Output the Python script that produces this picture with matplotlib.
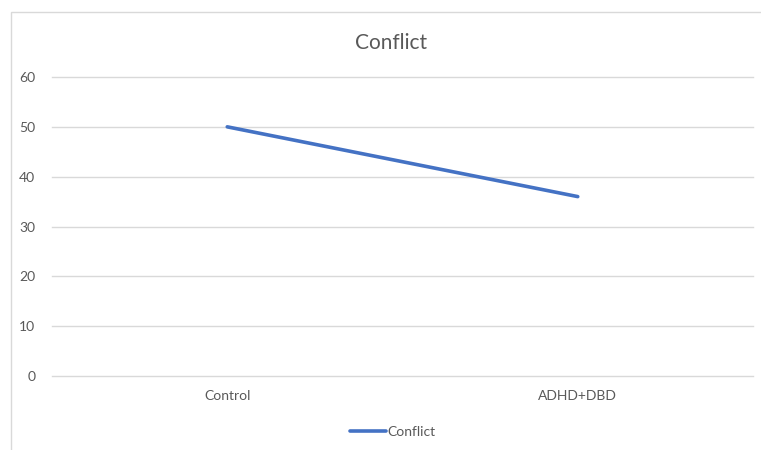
import matplotlib
matplotlib.use("Agg")
import matplotlib.pyplot as plt
import matplotlib.patches as patches

# data
categories = ["Control", "ADHD+DBD"]
conflict = [50, 36]
y_ticks = [0, 10, 20, 30, 40, 50, 60]

_BLUE = "#4472C4"
_GRID = "#d9d9d9"
_TEXT = "#595959"

plt.rcParams["font.family"] = ["Lato", "DejaVu Sans"]

W, H = 761, 450
fig = plt.figure(figsize=(W / 100, H / 100), dpi=100)
fig.patch.set_facecolor("white")

# chart-area border (runs off the right/bottom edge like the screenshot)
fig.patches.append(patches.Rectangle(
    (11 / W, -0.05), 1.1, 1 - 12 / H + 0.05,
    transform=fig.transFigure, facecolor="none",
    edgecolor=_GRID, linewidth=1.0, zorder=0,
))

ax = fig.add_axes([52 / W, 1 - 376 / H, (753 - 52) / W, (376 - 77) / H])
x = list(range(len(categories)))
ax.plot(x, conflict, color=_BLUE, linewidth=2.6,
        solid_capstyle="round", label="Conflict", zorder=3)

ax.set_xlim(-0.5, len(categories) - 0.5)
ax.set_ylim(0, 60)
ax.set_yticks(y_ticks)
ax.set_xticks(x)
ax.set_xticklabels(categories)
ax.yaxis.grid(True, color=_GRID, linewidth=1.0)
ax.set_axisbelow(True)
for gl in ax.get_ygridlines():
    gl.set_clip_on(False)
for s in ax.spines.values():
    s.set_visible(False)
ax.tick_params(axis="both", length=0, colors=_TEXT, labelsize=10)
ax.tick_params(axis="y", pad=12)
ax.tick_params(axis="x", pad=10)

fig.text(391 / W, 1 - 43 / H, "Conflict", ha="center", va="center",
         fontsize=15, color=_TEXT)

fig.legend(loc="center", bbox_to_anchor=(393 / W, 1 - 432 / H),
           frameon=False, fontsize=10, labelcolor=_TEXT,
           handlelength=2.6, handletextpad=0.1)

fig.savefig("out.png", dpi=100)
